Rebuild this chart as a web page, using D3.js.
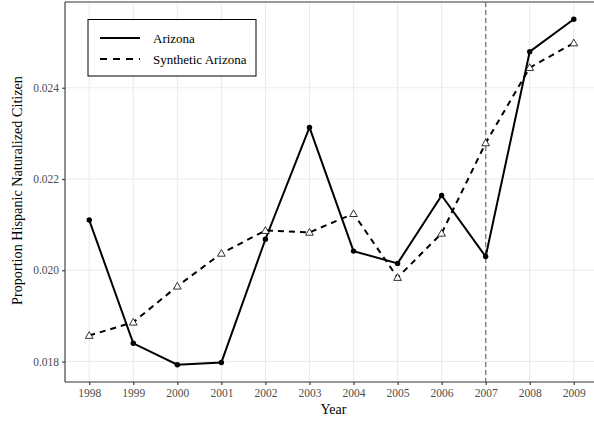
<!DOCTYPE html>
<html>
<head>
<meta charset="utf-8">
<script src="https://cdn.jsdelivr.net/npm/d3@7"></script>
<style>
  html, body { margin: 0; padding: 0; background: #fff; }
  svg { display: block; font-family: "Liberation Serif", "Times New Roman", serif; }
</style>
</head>
<body>
<svg id="chart" width="594" height="421"></svg>
<script>
// Years observed
const years = [1998, 1999, 2000, 2001, 2002, 2003, 2004, 2005, 2006, 2007, 2008, 2009];
// Observed proportion for Arizona
const arizona = [0.02110, 0.01840, 0.01793, 0.01798, 0.02068, 0.02313, 0.02042, 0.02015, 0.02164, 0.02030, 0.02479, 0.02550];
// Synthetic control estimate
const synthetic = [0.01857, 0.01886, 0.01965, 0.02037, 0.02087, 0.02083, 0.02124, 0.01984, 0.02081, 0.02279, 0.02444, 0.02498];
// Axis ticks
const yTicks = [0.018, 0.020, 0.022, 0.024];
const treatmentYear = 2007;
const seriesNames = ["Arizona", "Synthetic Arizona"];

const svg = d3.select("#chart");
const pLeft = 65, pTop = 2, pBottom = 382, pRight = 598;
const serif = "Liberation Serif, Times New Roman, serif";

const x = d3.scaleLinear()
  .domain([years[0] - 0.55, years[years.length - 1] + 0.55])
  .range([pLeft, pRight]);

const allVals = arizona.concat(synthetic);
const yMin = d3.min(allVals), yMax = d3.max(allVals);
const pad = (yMax - yMin) * 0.05;
const y = d3.scaleLinear().domain([yMin - pad, yMax + pad]).range([pBottom, pTop]);

// Grid
const grid = svg.append("g");
grid.selectAll("line.v").data(years).join("line")
  .attr("x1", d => x(d)).attr("x2", d => x(d))
  .attr("y1", pTop).attr("y2", pBottom)
  .attr("stroke", "#ebebeb").attr("stroke-width", 1.1);
grid.selectAll("line.h").data(yTicks).join("line")
  .attr("x1", pLeft).attr("x2", pRight)
  .attr("y1", d => y(d)).attr("y2", d => y(d))
  .attr("stroke", "#ebebeb").attr("stroke-width", 1.1);

// Top panel border
svg.append("line").attr("x1", pLeft).attr("x2", pRight).attr("y1", pTop).attr("y2", pTop)
  .attr("stroke", "#333").attr("stroke-width", 1.1);

// Treatment marker
svg.append("line")
  .attr("x1", x(treatmentYear)).attr("x2", x(treatmentYear))
  .attr("y1", pTop).attr("y2", pBottom)
  .attr("stroke", "#7f7f7f").attr("stroke-width", 1.4)
  .attr("stroke-dasharray", "5,3");

// Series
const pts = arr => years.map((yr, i) => [yr, arr[i]]);
const line = d3.line().x(d => x(d[0])).y(d => y(d[1]));

svg.append("path").datum(pts(synthetic)).attr("d", line)
  .attr("fill", "none").attr("stroke", "#000").attr("stroke-width", 2)
  .attr("stroke-dasharray", "6,5");
svg.append("path").datum(pts(arizona)).attr("d", line)
  .attr("fill", "none").attr("stroke", "#000").attr("stroke-width", 2);

const tri = d3.symbol().type(d3.symbolTriangle).size(26);
svg.append("g").selectAll("path").data(pts(synthetic)).join("path")
  .attr("d", tri)
  .attr("transform", d => `translate(${x(d[0])},${y(d[1]) + 0.6})`)
  .attr("fill", "#fff").attr("stroke", "#000").attr("stroke-width", 0.8);
svg.append("g").selectAll("circle").data(pts(arizona)).join("circle")
  .attr("cx", d => x(d[0])).attr("cy", d => y(d[1])).attr("r", 2.7)
  .attr("fill", "#000");

// Axes
const xAxis = svg.append("g").attr("transform", `translate(0,${pBottom})`)
  .call(d3.axisBottom(x).tickValues(years).tickFormat(d3.format("d")).tickSize(3).tickPadding(4));
const yAxis = svg.append("g").attr("transform", `translate(${pLeft},0)`)
  .call(d3.axisLeft(y).tickValues(yTicks).tickFormat(d3.format(".3f")).tickSize(3).tickPadding(3));
[xAxis, yAxis].forEach(a => {
  a.attr("font-family", serif).attr("font-size", 11.5);
  a.select(".domain").attr("stroke", "#333").attr("stroke-width", 1.1);
  a.selectAll(".tick line").attr("stroke", "#333").attr("stroke-width", 1.1);
  a.selectAll(".tick text").attr("fill", "#4d4d4d");
});
// Plain axis lines without end caps
xAxis.select(".domain").attr("d", `M${pLeft},0H${pRight}`);
yAxis.select(".domain").attr("d", `M0,${pTop}V${pBottom}`);

// Axis titles
svg.append("text").attr("x", 333.5).attr("y", 414)
  .attr("text-anchor", "middle").attr("font-size", 14).attr("fill", "#000")
  .text("Year");
svg.append("text")
  .attr("transform", `translate(22,190.5) rotate(-90)`)
  .attr("text-anchor", "middle").attr("font-size", 14.2).attr("fill", "#000")
  .text("Proportion Hispanic Naturalized Citizen");

// Legend
const lg = svg.append("g");
lg.append("rect").attr("x", 88).attr("y", 19.5).attr("width", 168).attr("height", 56.5)
  .attr("fill", "#fff").attr("stroke", "#000").attr("stroke-width", 1);
seriesNames.forEach((name, i) => {
  const cy = 38 + i * 21;
  lg.append("line").attr("x1", 100).attr("x2", 140).attr("y1", cy).attr("y2", cy)
    .attr("stroke", "#000").attr("stroke-width", 2)
    .attr("stroke-dasharray", i === 1 ? "7,6" : null);
  lg.append("text").attr("x", 153).attr("y", cy + 4.5)
    .attr("font-size", 13).attr("fill", "#000").text(name);
});
</script>
</body>
</html>
